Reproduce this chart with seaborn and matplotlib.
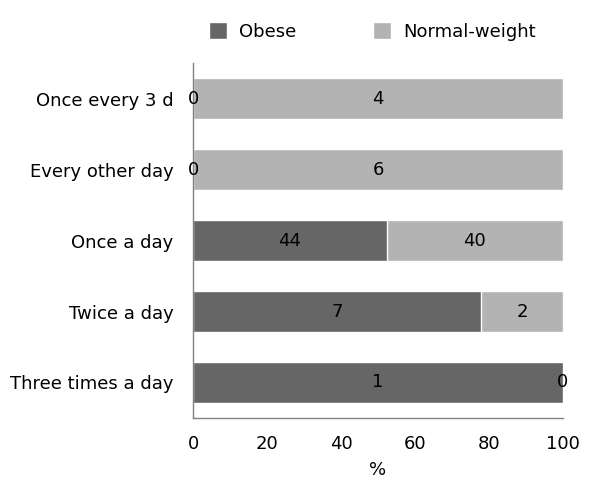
import matplotlib
matplotlib.use("Agg")
import matplotlib.pyplot as plt
import seaborn as sns
import pandas as pd
from matplotlib.patches import Patch

categories = ["Once every 3 d", "Every other day", "Once a day", "Twice a day", "Three times a day"]
obese = [0, 0, 44, 7, 1]
normal = [4, 6, 40, 2, 0]

tot = [o + n for o, n in zip(obese, normal)]
obese_pct = [100 * o / t for o, t in zip(obese, tot)]
df = pd.DataFrame({"cat": categories, "obese_pct": obese_pct, "total": [100.0] * len(categories)})

sns.set_style("white")
plt.rcParams["font.family"] = ["DejaVu Sans"]
plt.rcParams["text.color"] = "black"
plt.rcParams["xtick.color"] = "black"
plt.rcParams["ytick.color"] = "black"
plt.rcParams["axes.labelcolor"] = "black"

c_obese = "#666666"
c_norm = "#b3b3b3"
fs = 13

fig = plt.figure(figsize=(5.91, 4.86), dpi=100)
ax = fig.add_axes([0.3266, 0.14, 0.626, 0.73])

sns.barplot(data=df, y="cat", x="total", color=c_norm, orient="h", width=0.57, ax=ax, saturation=1)
sns.barplot(data=df, y="cat", x="obese_pct", color=c_obese, orient="h", width=0.57, ax=ax, saturation=1)

for i, (o, n, op) in enumerate(zip(obese, normal, obese_pct)):
    ax.text(op / 2, i, str(o), ha="center", va="center", fontsize=fs, color="black")
    ax.text(op + (100 - op) / 2, i, str(n), ha="center", va="center", fontsize=fs, color="black")

ax.set_xlim(0, 100)
ax.set_ylim(4.5, -0.5)
ax.set_xticks([0, 20, 40, 60, 80, 100])
ax.tick_params(axis="y", length=0, labelsize=fs, pad=14)
ax.tick_params(axis="x", length=0, labelsize=fs, pad=12)
ax.set_xlabel("%", fontsize=fs, labelpad=6)
ax.set_ylabel("")
for s in ["top", "right"]:
    ax.spines[s].set_visible(False)
for s in ["left", "bottom"]:
    ax.spines[s].set_color("#808080")
    ax.spines[s].set_linewidth(1)

handles = [Patch(facecolor=c_obese, label="Obese"), Patch(facecolor=c_norm, label="Normal-weight")]
fig.legend(handles=handles, loc="center", bbox_to_anchor=(0.63, 0.935), ncol=2, frameon=False,
           fontsize=fs, handlelength=1.0, handleheight=1.0, columnspacing=4.2, handletextpad=0.7)

fig.savefig("out.png", dpi=100)
